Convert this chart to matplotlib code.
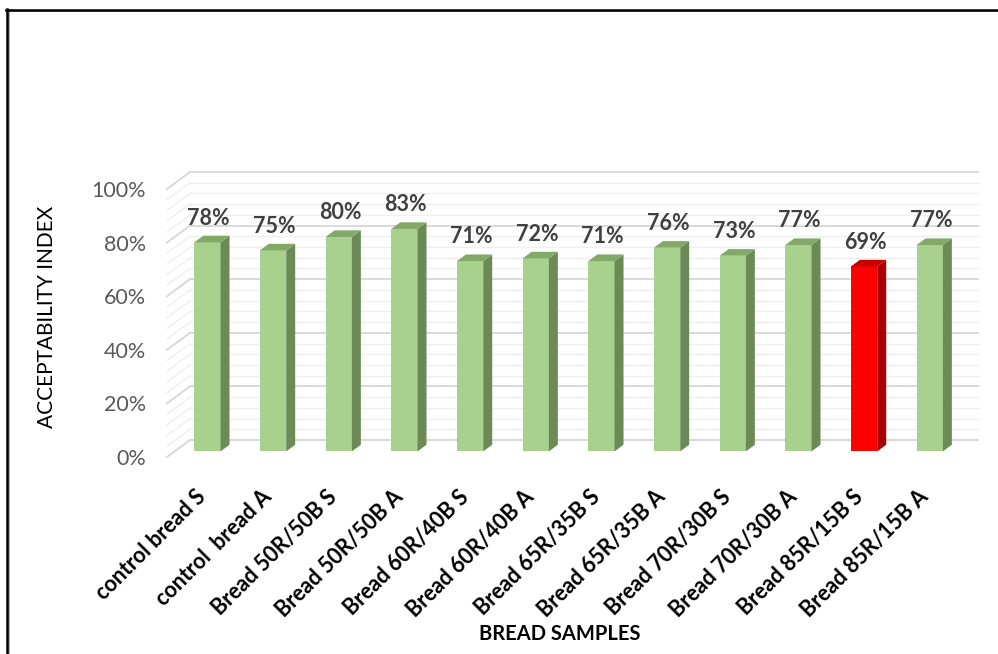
import numpy as np
import matplotlib.pyplot as plt
from matplotlib.patches import Polygon
from matplotlib.lines import Line2D

plt.rcParams['font.family'] = ['Lato', 'DejaVu Sans']

categories = ["control bread S", "control  bread A", "Bread 50R/50B S", "Bread 50R/50B A",
              "Bread 60R/40B S", "Bread 60R/40B A", "Bread 65R/35B S", "Bread 65R/35B A",
              "Bread 70R/30B S", "Bread 70R/30B A", "Bread 85R/15B S", "Bread 85R/15B A"]
values = [78, 75, 80, 83, 71, 72, 71, 76, 73, 77, 69, 77]
highlight = [False] * 10 + [True, False]
yticks = [0, 20, 40, 60, 80, 100]
ytick_labels = ["0%", "20%", "40%", "60%", "80%", "100%"]

# fake 3d: depth vector in data units (categories, percent)
DX, DY = 0.35, 6.34
F0, F1 = 0.33, 0.72
BW = 0.4

green = ("#a9d18e", "#6b8a55", "#82a968")
red = ("#ff0000", "#a80000", "#c80000")

fig = plt.figure(figsize=(9.98, 6.54), dpi=100)
ax = fig.add_axes([167 / 998, 1 - 457 / 654, 788 / 998, 268 / 654])
n = len(values)
ax.set_xlim(-0.5, n - 0.5)
ax.set_ylim(0, 100)
for s in ax.spines.values():
    s.set_visible(False)

# back wall + side wall gridlines
for v in range(0, 101, 4):
    major = v % 20 == 0
    c = "#d9d9d9" if major else "#efefef"
    lw = 1.4 if major else 1.0
    ax.plot([-0.5 + DX, n - 0.5 + DX], [v + DY, v + DY], color=c, lw=lw, clip_on=False, zorder=1)
    ax.plot([-0.5, -0.5 + DX], [v, v + DY], color=c, lw=lw, clip_on=False, zorder=1)

x = np.arange(n)
xf = x + F0 * DX
d = F1 - F0
cols = [red if h else green for h in highlight]
ax.bar(xf, values, width=BW, bottom=F0 * DY, color=[c[0] for c in cols],
       clip_on=False, zorder=3)
for xi, v, c in zip(xf, values, cols):
    b = F0 * DY
    r = xi + BW / 2
    l = xi - BW / 2
    side = [(r, b), (r + d * DX, b + d * DY), (r + d * DX, b + v + d * DY), (r, b + v)]
    top = [(l, b + v), (r, b + v), (r + d * DX, b + v + d * DY), (l + d * DX, b + v + d * DY)]
    ax.add_patch(Polygon(side, closed=True, facecolor=c[1], edgecolor="none", clip_on=False, zorder=3))
    ax.add_patch(Polygon(top, closed=True, facecolor=c[2], edgecolor="none", clip_on=False, zorder=3))
    ax.text(xi + 0.02, v + b + 9.0, f"{v}%", ha="center", va="center", fontsize=15.5,
            fontweight="bold", color="#404040", zorder=4)

ax.set_yticks(yticks)
ax.set_yticklabels(ytick_labels, fontsize=15.5, color="#595959")
ax.tick_params(axis="y", length=0, pad=15)
ax.set_xticks(x - 0.07)
ax.set_xticklabels(categories, rotation=45, ha="right", va="top", rotation_mode="anchor",
                   fontsize=15.5, fontweight="bold", color="black")
ax.tick_params(axis="x", length=0, pad=21)

fig.text(560 / 998, 1 - 634 / 654, "BREAD SAMPLES", ha="center", va="center",
         fontsize=14.5, fontweight="bold", color="black")
fig.text(47 / 998, 1 - 317 / 654, "ACCEPTABILITY INDEX", ha="center", va="center",
         rotation=90, fontsize=15, color="black")

# outer frame (top and left only)
fig.add_artist(Line2D([7 / 998, 1], [1 - 11 / 654, 1 - 11 / 654], color="#a0a0a0", lw=1.2))
fig.add_artist(Line2D([9 / 998, 9 / 998], [0, 1 - 10 / 654], color="#a0a0a0", lw=1.2))
fig.add_artist(Line2D([6 / 998, 1], [1 - 9.5 / 654, 1 - 9.5 / 654], color="black", lw=1.8))
fig.add_artist(Line2D([7 / 998, 7 / 998], [0, 1 - 9 / 654], color="black", lw=1.8))

fig.savefig("out.png", dpi=100)
